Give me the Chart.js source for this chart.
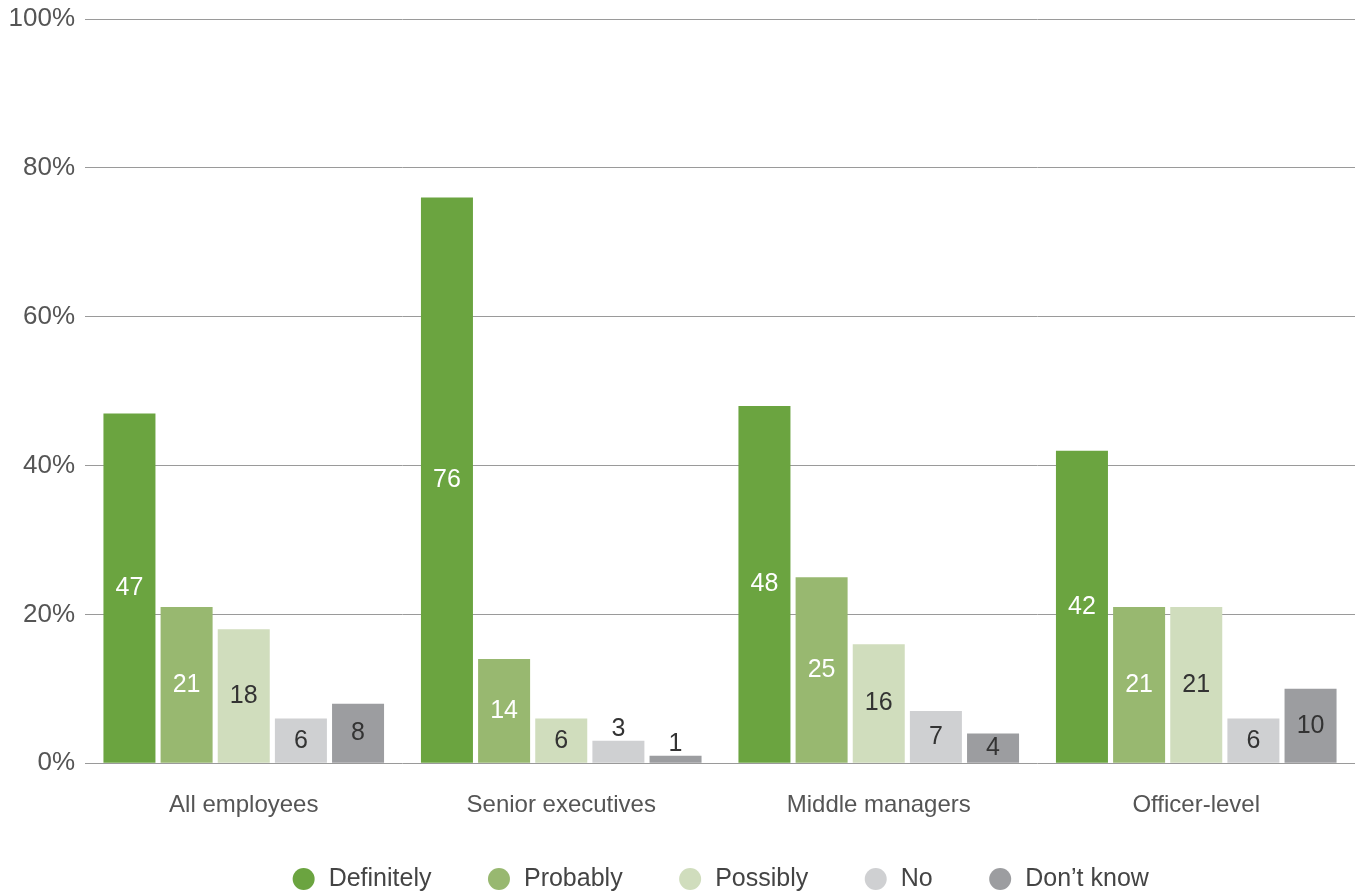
<!DOCTYPE html>
<html lang="en">
<head>
    <meta charset="UTF-8">
    <title>Chart</title>
    <style>
        html, body { margin: 0; padding: 0; background: #fff; }
        .container { width: 1364px; height: 893px; }
    </style>
</head>
<body>
    <div class="container">
        <canvas id="myChart"></canvas>
    </div>
    <script src="https://cdn.jsdelivr.net/npm/chart.js@4.4.0/dist/chart.umd.min.js"></script>
    <script>
        let labels = ['All employees', 'Senior executives', 'Middle managers', 'Officer-level'];
        let definitely = [47, 76, 48, 42];
        let probably = [21, 14, 25, 21];
        let possibly = [18, 6, 16, 21];
        let no = [6, 3, 7, 6];
        let dontKnow = [8, 1, 4, 10];
        let yTicks = [0, 20, 40, 60, 80, 100];

        let font = "'Liberation Sans', Arial, sans-serif";
        let ctx = document.getElementById('myChart').getContext('2d');

        // value labels: centred in the bar, above it when the bar is too short
        let barLabels = {
            id: 'barLabels',
            afterDatasetsDraw(chart) {
                let c = chart.ctx;
                c.save();
                c.font = '25px ' + font;
                c.textAlign = 'center';
                c.textBaseline = 'middle';
                chart.data.datasets.forEach((ds, i) => {
                    let meta = chart.getDatasetMeta(i);
                    if (meta.hidden) return;
                    meta.data.forEach((bar, j) => {
                        let v = ds.data[j];
                        if (v <= 3) {
                            c.fillStyle = '#333';
                            c.fillText(v, bar.x, bar.y - 12);
                        } else {
                            c.fillStyle = ds.labelColor;
                            c.fillText(v, bar.x, (bar.y + bar.base) / 2);
                        }
                    });
                });
                c.restore();
            }
        };

        // wide gaps between legend items but a short legend box
        let legendSpacing = {
            id: 'legendSpacing',
            afterInit(chart) {
                let lg = chart.legend;
                let fit = lg.fit, draw = lg._draw;
                let shift = 28.5;
                lg.fit = function () { fit.call(this); this.height -= 37; };
                lg._draw = function () { this.top -= shift; draw.call(this); this.top += shift; };
            }
        };

        let chart = new Chart(ctx, {
            type: 'bar',
            data: {
                labels: labels,
                datasets: [
                    { label: 'Definitely', data: definitely, backgroundColor: '#6ba440', labelColor: '#fff' },
                    { label: 'Probably', data: probably, backgroundColor: '#98b870', labelColor: '#fff' },
                    { label: 'Possibly', data: possibly, backgroundColor: '#d0ddbd', labelColor: '#333' },
                    { label: 'No', data: no, backgroundColor: '#cfd0d2', labelColor: '#333' },
                    { label: 'Don\u2019t know', data: dontKnow, backgroundColor: '#9c9da0', labelColor: '#333' }
                ]
            },
            options: {
                responsive: true,
                maintainAspectRatio: false,
                animation: false,
                datasets: {
                    bar: { categoryPercentage: 0.9, barPercentage: 0.91 }
                },
                layout: { padding: { top: 0, right: 9, left: 0, bottom: 0 } },
                scales: {
                    x: {
                        grid: { display: false },
                        border: { display: false },
                        ticks: { color: '#555', padding: 20, font: { family: font, size: 24 } }
                    },
                    y: {
                        min: 0,
                        max: 100,
                        afterBuildTicks: axis => { axis.ticks = yTicks.map(v => ({ value: v })); },
                        afterFit: axis => { axis.width = 85; axis.paddingTop = 19; },
                        grid: { color: '#9a9a9a', lineWidth: 1, drawTicks: false },
                        border: { display: false },
                        ticks: {
                            color: '#555',
                            padding: 10,
                            font: { family: font, size: 26 },
                            callback: v => v + '%'
                        }
                    }
                },
                plugins: {
                    tooltip: { enabled: false },
                    legend: {
                        position: 'bottom',
                        fullSize: false,
                        labels: {
                            usePointStyle: true,
                            pointStyle: 'circle',
                            boxWidth: 25,
                            boxHeight: 15.56,
                            padding: 55,
                            color: '#444',
                            font: { family: font, size: 25 }
                        }
                    }
                }
            },
            plugins: [barLabels, legendSpacing]
        });
    </script>
</body>
</html>
